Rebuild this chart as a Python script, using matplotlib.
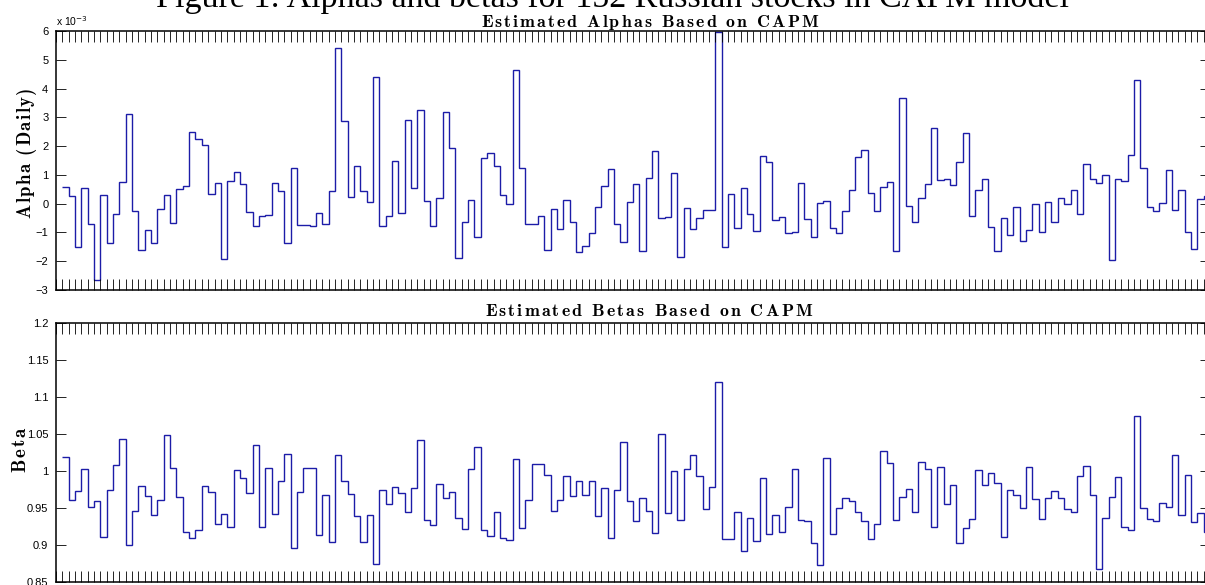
import numpy as np
import matplotlib
matplotlib.use('Agg')
import matplotlib.pyplot as plt
from matplotlib.font_manager import FontProperties

# estimated alphas (in units of 1e-3) and betas, one value per stock
alpha_x1e3 = [
    0.57, 0.26, -1.51, 0.53, -0.70, -2.65, 0.29, -1.37, -0.35, 0.77,
    3.12, -0.26, -1.61, -0.91, -1.35, -0.19, 0.30, -0.67, 0.51, 0.60,
    2.49, 2.25, 2.03, 0.34, 0.72, -1.93, 0.79, 1.10, 0.69, -0.29,
    -0.79, -0.42, -0.38, 0.72, 0.43, -1.37, 1.23, -0.75, -0.75, -0.79,
    -0.33, -0.70, 0.44, 5.42, 2.88, 0.24, 1.31, 0.43, 0.06, 4.39,
    -0.79, -0.43, 1.47, -0.33, 2.89, 0.53, 3.24, 0.10, -0.77, 0.19,
    3.17, 1.92, -1.90, -0.62, 0.13, -1.17, 1.60, 1.77, 1.32, 0.31,
    -0.02, 4.65, 1.24, -0.71, -0.71, -0.44, -1.60, -0.20, -0.88, 0.12,
    -0.64, -1.68, -1.47, -1.02, -0.10, 0.60, 1.20, -0.70, -1.32, 0.07,
    0.70, -1.64, 0.89, 1.82, -0.51, -0.46, 1.07, -1.85, -0.15, -0.89,
    -0.50, -0.23, -0.22, 5.97, -1.51, 0.35, -0.84, 0.56, -0.35, -0.94,
    1.65, 1.44, -0.58, -0.46, -1.02, -0.99, 0.71, -0.53, -1.15, 0.01,
    0.08, -0.86, -1.03, -0.24, 0.49, 1.63, 1.85, 0.36, -0.24, 0.57,
    0.74, -1.64, 3.66, -0.09, -0.64, 0.20, 0.69, 2.62, 0.82, 0.84,
    0.64, 1.44, 2.44, -0.43, 0.48, 0.87, -0.82, -1.66, -0.51, -1.08,
    -0.12, -1.29, -0.91, 0.00, -1.00, 0.06, -0.65, 0.21, -0.01, 0.48,
    -0.37, 1.37, 0.84, 0.71, 0.98, -1.97, 0.84, 0.78, 1.70, 4.31,
    1.25, -0.10, -0.27, 0.02, 1.16, -0.21, 0.46, -0.99, -1.58, 0.16,
    0.28,
]
beta = [
    1.019, 0.961, 0.973, 1.003, 0.951, 0.959, 0.911, 0.974, 1.008, 1.043,
    0.900, 0.946, 0.980, 0.966, 0.940, 0.961, 1.049, 1.004, 0.965, 0.918,
    0.910, 0.920, 0.980, 0.972, 0.928, 0.942, 0.925, 1.001, 0.990, 0.970,
    1.035, 0.925, 1.004, 0.942, 0.986, 1.023, 0.896, 0.971, 1.004, 1.004,
    0.913, 0.968, 0.904, 1.021, 0.986, 0.969, 0.939, 0.904, 0.940, 0.874,
    0.975, 0.955, 0.978, 0.970, 0.945, 0.977, 1.042, 0.934, 0.927, 0.982,
    0.964, 0.972, 0.936, 0.922, 1.003, 1.032, 0.920, 0.912, 0.945, 0.909,
    0.907, 1.016, 0.923, 0.961, 1.010, 1.009, 0.995, 0.946, 0.961, 0.993,
    0.966, 0.986, 0.967, 0.987, 0.939, 0.977, 0.909, 0.974, 1.039, 0.959,
    0.933, 0.964, 0.946, 0.916, 1.050, 0.943, 1.000, 0.934, 1.003, 1.021,
    0.993, 0.949, 0.978, 1.120, 0.908, 0.908, 0.945, 0.892, 0.936, 0.905,
    0.990, 0.915, 0.940, 0.917, 0.951, 1.003, 0.934, 0.933, 0.903, 0.873,
    1.017, 0.915, 0.950, 0.963, 0.959, 0.944, 0.933, 0.908, 0.929, 1.027,
    1.011, 0.934, 0.965, 0.976, 0.945, 1.012, 1.003, 0.924, 1.006, 0.955,
    0.981, 0.903, 0.923, 0.935, 1.001, 0.981, 0.997, 0.984, 0.911, 0.974,
    0.968, 0.950, 1.006, 0.962, 0.935, 0.963, 0.973, 0.964, 0.948, 0.944,
    0.993, 1.007, 0.967, 0.867, 0.937, 0.965, 0.992, 0.924, 0.920, 1.074,
    0.950, 0.935, 0.933, 0.957, 0.952, 1.021, 0.941, 0.995, 0.931, 0.943,
    0.917,
]
alpha_ticks = [-3, -2, -1, 0, 1, 2, 3, 4, 5, 6]
beta_ticks = [0.85, 0.9, 0.95, 1.0, 1.05, 1.1, 1.15, 1.2]
beta_labels = ['0.85', '0.9', '0.95', '1', '1.05', '1.1', '1.15', '1.2']

LINE = '#1c1ca8'
TICKFONT = 'Liberation Sans'

W, H = 1205, 585
fig = plt.figure(figsize=(W / 100, H / 100), dpi=100)
renderer = fig.canvas.get_renderer()


def px_axes(left, top, right, bottom):
    return fig.add_axes([left / W, 1 - bottom / H, (right - left) / W, (bottom - top) / H])


def tracked_text(s, x0, y0, length, size, vertical=False):
    '''letter-spaced bold serif text, like the LaTeX labels of the original.
    x0, y0: start of the baseline in pixels from the top-left corner,
    length: total length of the text in pixels'''
    fp = FontProperties(family='cmb10', size=size)
    w = lambda t: renderer.get_text_width_height_descent(t, fp, ismath=False)[0]
    advs = [w('n n') - w('nn') if ch == ' ' else w(ch) for ch in s]
    track = (length - sum(advs)) / (len(s) - 1)
    pos = 0.0
    for ch, a in zip(s, advs):
        if ch != ' ':
            if vertical:
                fig.text(x0 / W, 1 - (y0 - pos) / H, ch, fontproperties=fp, rotation=90,
                         ha='left', va='baseline', rotation_mode='anchor')
            else:
                fig.text((x0 + pos) / W, 1 - y0 / H, ch, fontproperties=fp,
                         ha='left', va='baseline')
        pos += a + track


ax1 = px_axes(56, 31, 1210, 290)
ax2 = px_axes(56, 323, 1210, 582)

edges = np.arange(1, len(beta) + 2)
ax1.stairs(alpha_x1e3, edges, color=LINE, lw=1.0, baseline=None)
ax2.stairs(beta, edges, color=LINE, lw=1.0, baseline=None)

for ax in (ax1, ax2):
    ax.set_xlim(0, 182)
    ax.set_xticks(np.arange(0, 183))
    ax.set_xticklabels([])
    ax.tick_params(axis='x', direction='in', top=True, bottom=True, length=8, width=0.6)
    ax.tick_params(axis='y', direction='in', left=True, right=True, length=7.2, width=0.6,
                   labelsize=8, pad=5.5)
    for sp in ax.spines.values():
        sp.set_linewidth(1.1)

ax1.set_ylim(-3, 6)
ax1.set_yticks(alpha_ticks)
ax1.set_yticklabels(['\u2212%d' % -t if t < 0 else str(t) for t in alpha_ticks],
                    fontfamily=TICKFONT)
ax2.set_ylim(0.85, 1.2)
ax2.set_yticks(beta_ticks)
ax2.set_yticklabels(beta_labels, fontfamily=TICKFONT)

fig.text(56 / W, 1 - 26 / H, r'x 10$^{-3}$', fontsize=7.5, fontfamily=TICKFONT, va='baseline')

tracked_text('Estimated Alphas Based on CAPM', 481, 26.7, 337, 12.8)
tracked_text('Estimated Betas Based on CAPM', 485, 316, 327, 12.8)
tracked_text('Alpha (Daily)', 30.7, 218, 131, 13.5, vertical=True)
tracked_text('Beta', 25, 472, 44, 13.5, vertical=True)

fig.text(613 / W, 1 - 7.3 / H, 'Figure 1: Alphas and betas for 152 Russian stocks in CAPM model',
         fontfamily='Liberation Serif', fontsize=24.5, ha='center', va='baseline')

fig.savefig('out.png', dpi=100)
